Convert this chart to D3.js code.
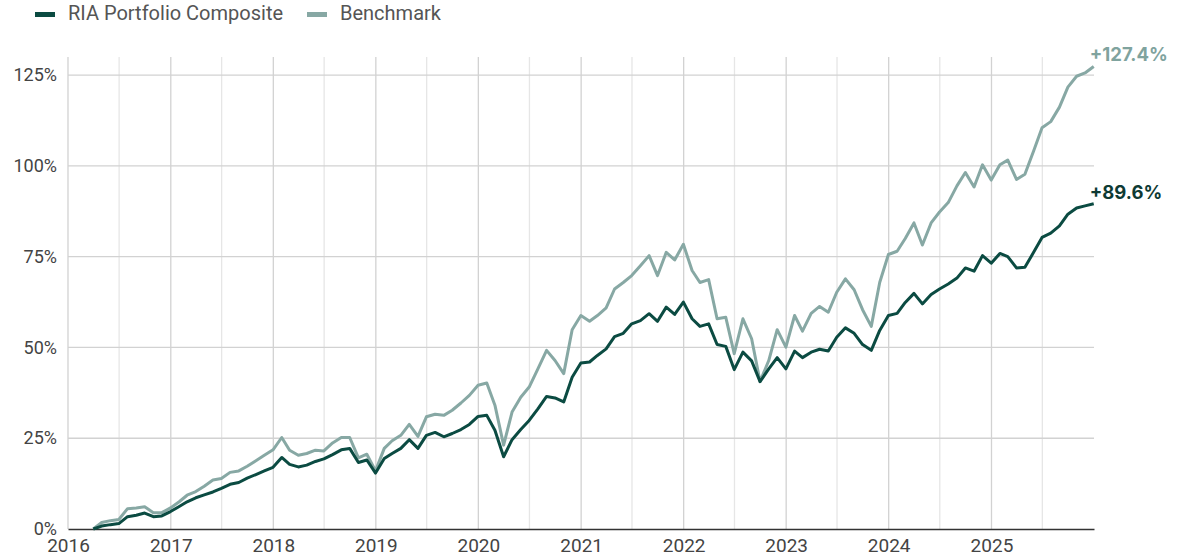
<!DOCTYPE html>
<html>
<head>
<meta charset="utf-8">
<script src="https://cdn.jsdelivr.net/npm/d3@7"></script>
<style>
  body { margin: 0; background: #fff; font-family: Roboto, "Noto Sans", sans-serif; }
  svg { display: block; }
</style>
</head>
<body>
<div id="chart"></div>
<script>
// monthly cumulative returns (%), month-ends Mar 2016 .. Dec 2025
const portfolio = [
  0, 0.8, 1.2, 1.5, 3.4, 3.8, 4.4, 3.4, 3.6, 4.8,
  6.2, 7.5, 8.6, 9.4, 10.2, 11.2, 12.3, 12.8, 14.0, 15.0, 16.0, 17.0,
  19.7, 17.8, 17.1, 17.6, 18.6, 19.3, 20.5, 21.8, 22.2, 18.3, 19.0, 15.4,
  19.4, 20.8, 22.2, 24.6, 22.2, 25.8, 26.6, 25.4, 26.3, 27.4, 28.8, 31.0,
  31.3, 27.2, 19.9, 24.6, 27.4, 29.9, 33.1, 36.5, 36.1, 35.0, 41.8, 45.7,
  46.0, 47.8, 49.6, 53.0, 53.9, 56.5, 57.4, 59.3, 57.2, 61.1, 59.1, 62.5,
  57.9, 55.8, 56.5, 50.8, 50.3, 43.9, 48.7, 46.3, 40.6, 44.1, 47.2, 44.1,
  49.0, 47.2, 48.7, 49.5, 49.0, 52.8, 55.4, 53.9, 50.8, 49.2, 54.7, 58.8,
  59.4, 62.4, 64.9, 62.0, 64.6, 66.1, 67.5, 69.1, 71.9, 71.0, 75.3, 73.2,
  75.9, 75.0, 71.9, 72.1, 76.2, 80.3, 81.5, 83.5, 86.7, 88.4, 89.0, 89.6
];
const benchmark = [
  0, 1.8, 2.3, 2.6, 5.6, 5.8, 6.1, 4.5, 4.5, 5.8,
  7.5, 9.3, 10.3, 11.8, 13.5, 13.9, 15.6, 16.0, 17.3, 18.8, 20.3, 21.8,
  25.2, 21.7, 20.3, 20.8, 21.7, 21.5, 23.7, 25.2, 25.2, 19.6, 20.6, 16.0,
  22.2, 24.3, 25.8, 28.8, 25.5, 30.9, 31.6, 31.3, 32.7, 34.7, 36.8, 39.6,
  40.2, 34.1, 23.1, 32.2, 36.3, 39.1, 44.1, 49.2, 46.4, 42.8, 54.9, 58.8,
  57.2, 58.8, 60.9, 66.1, 67.9, 69.8, 72.5, 75.3, 69.8, 76.2, 74.1, 78.4,
  71.2, 67.9, 68.7, 57.9, 58.3, 48.3, 57.9, 52.4, 40.6, 46.4, 54.9, 50.1,
  58.8, 54.5, 59.4, 61.3, 59.7, 65.2, 68.9, 65.9, 60.4, 55.8, 67.9, 75.6,
  76.5, 80.0, 84.3, 78.2, 84.3, 87.3, 89.9, 94.5, 98.2, 94.2, 100.3, 96.1,
  100.3, 101.6, 96.3, 97.7, 104.1, 110.5, 112.2, 116.2, 121.7, 124.7, 125.6, 127.4
];
const seriesNames = ["RIA Portfolio Composite", "Benchmark"];
const seriesColors = ["#0b4b42", "#87a8a4"];
const labelColors = ["#0e3a34", "#7fa39e"];
const yTicks = [0, 25, 50, 75, 100, 125];

// month-end dates for each value
const dates = portfolio.map((_, i) => d3.timeDay.offset(d3.timeMonth.offset(new Date(2016, 3, 1), i), -1));

const width = 1179, height = 560;
const margin = { top: 57, right: 85, bottom: 31, left: 68 };

const svg = d3.select("#chart")
  .append("svg")
  .attr("width", width)
  .attr("height", height);

const x = d3.scaleTime()
  .domain([new Date(2016, 0, 1), new Date(2026, 0, 1)])
  .range([margin.left, width - margin.right]);

const y = d3.scaleLinear()
  .domain([0, 130])
  .range([height - margin.bottom, margin.top]);

// grid: half-year verticals lighter than year verticals
const grid = svg.append("g");
grid.selectAll("line.v")
  .data(d3.timeMonth.every(6).range(new Date(2016, 0, 1), new Date(2026, 0, 1)))
  .join("line")
  .attr("x1", d => x(d)).attr("x2", d => x(d))
  .attr("y1", margin.top).attr("y2", height - margin.bottom)
  .attr("stroke", d => d.getMonth() === 0 ? "#d2d2d2" : "#e6e6e6")
  .attr("stroke-width", 1.3);

grid.selectAll("line.h")
  .data(yTicks.filter(d => d > 0))
  .join("line")
  .attr("x1", margin.left).attr("x2", width - margin.right)
  .attr("y1", d => y(d)).attr("y2", d => y(d))
  .attr("stroke", "#d2d2d2")
  .attr("stroke-width", 1.3);

// y axis labels
svg.append("g")
  .attr("transform", `translate(${margin.left},0)`)
  .call(d3.axisLeft(y).tickValues(yTicks).tickFormat(d => d + "%").tickSize(0).tickPadding(11))
  .call(g => g.select(".domain").remove())
  .call(g => g.selectAll("text")
    .attr("fill", "#444").attr("font-size", 18).attr("font-family", "Roboto"));

// x axis
svg.append("g")
  .attr("transform", `translate(0,${height - margin.bottom})`)
  .call(d3.axisBottom(x).ticks(d3.timeYear.every(1)).tickFormat(d3.timeFormat("%Y")).tickSize(0).tickPadding(10))
  .call(g => g.select(".domain").attr("stroke", "#333").attr("stroke-width", 1.5))
  .call(g => g.selectAll(".tick").filter(d => d.getFullYear() === 2026).remove())
  .call(g => g.selectAll("text")
    .attr("fill", "#444").attr("font-size", 19).attr("font-family", "Roboto"));

// lines
const line = d3.line()
  .x((d, i) => x(dates[i]))
  .y(d => y(d));

const allSeries = [portfolio, benchmark];
svg.selectAll("path.series")
  .data([1, 0])
  .join("path")
  .attr("class", "series")
  .attr("fill", "none")
  .attr("stroke", k => seriesColors[k])
  .attr("stroke-width", 3)
  .attr("stroke-linejoin", "round")
  .attr("d", k => line(allSeries[k]));

// end labels
svg.selectAll("text.end")
  .data([0, 1])
  .join("text")
  .attr("class", "end")
  .attr("x", k => x(dates[dates.length - 1]) - 4)
  .attr("y", k => y(allSeries[k][allSeries[k].length - 1]) - 5)
  .attr("fill", k => labelColors[k])
  .attr("font-size", 18.5)
  .attr("font-weight", 700)
  .attr("font-family", "Inter, Roboto")
  .text(k => "+" + allSeries[k][allSeries[k].length - 1].toFixed(1) + "%");

// legend
const legend = svg.append("g");
const legendX = [35, 307];
seriesNames.forEach((name, k) => {
  legend.append("rect")
    .attr("x", legendX[k]).attr("y", 12)
    .attr("width", 20).attr("height", 5)
    .attr("fill", seriesColors[k]);
  legend.append("text")
    .attr("x", legendX[k] + 33).attr("y", 20)
    .attr("fill", "#555")
    .attr("font-size", 20)
    .attr("font-family", "Roboto")
    .text(name);
});
</script>
</body>
</html>
